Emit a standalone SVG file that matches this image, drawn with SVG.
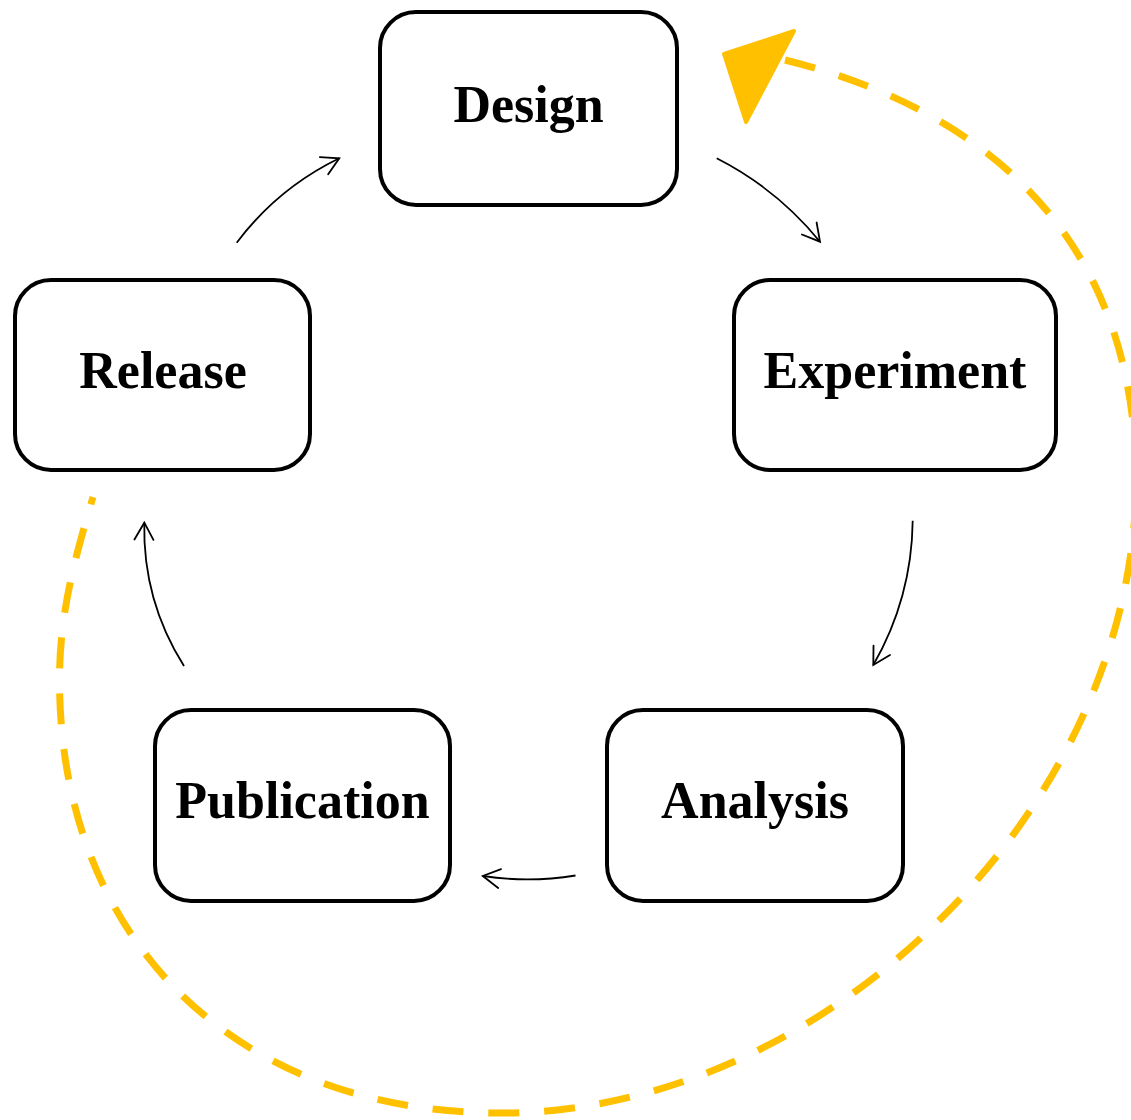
<svg xmlns="http://www.w3.org/2000/svg" width="1131" height="1120" viewBox="0 0 1131 1120">
  <style>
    .node rect { fill: #ffffff; stroke: #000000; stroke-width: 4; }
    .node text { font-family: "Liberation Serif", "Times New Roman", serif; font-weight: bold; font-size: 52px; fill: #000000; text-anchor: middle; }
    .conn { fill: none; stroke: #000000; stroke-width: 1.8; marker-end: url(#open); }
    .cycle { fill: none; stroke: #FFC000; stroke-width: 7; stroke-dasharray: 31 24.86; stroke-linecap: butt; }
    .cyclehead { fill: #FFC000; stroke: #FFC000; stroke-width: 4; stroke-linejoin: round; }
  </style>
  <defs>
    <marker id="open" markerUnits="userSpaceOnUse" viewBox="-20 -12 22 24" markerWidth="22" markerHeight="24" refX="0" refY="0" orient="auto" overflow="visible">
      <path d="M -17,-9.5 L 0,0 L -17,9.5" fill="none" stroke="#000000" stroke-width="1.8" stroke-linecap="round" stroke-linejoin="miter"/>
    </marker>
  </defs>
  <rect x="0" y="0" width="1131" height="1120" fill="#ffffff"/>

  <g id="connectors">
    <path class="cycle" d="M 785,60 C 993.5,111.6 1136,245 1136,480 C 1136,806 827.5,1113 500,1113 C 235.7,1113 59.5,939.8 59.5,680 C 59.5,610 76.2,554.6 93,497"/>
    <polygon class="cyclehead" points="724,54 794,31 746,122"/>
    <path class="conn" d="M 236.7,242.7 Q 278,188 339.3,158.3"/>
    <path class="conn" d="M 716.7,158.3 Q 777,189 820,241.7"/>
    <path class="conn" d="M 912.7,520.7 Q 911.8,597.9 873.3,665"/>
    <path class="conn" d="M 575.5,875.5 Q 529,883 482.8,876"/>
    <path class="conn" d="M 184,666 Q 142.6,600.4 144.3,522.7"/>
  </g>

  <g id="design" class="node">
    <rect x="380" y="12" width="297" height="193" rx="36" ry="36"/>
    <text x="528.5" y="122">Design</text>
  </g>
  <g id="experiment" class="node">
    <rect x="734" y="280" width="322" height="190" rx="36" ry="36"/>
    <text x="895" y="388">Experiment</text>
  </g>
  <g id="analysis" class="node">
    <rect x="607" y="710" width="296" height="191" rx="36" ry="36"/>
    <text x="755" y="818">Analysis</text>
  </g>
  <g id="publication" class="node">
    <rect x="155" y="710" width="295" height="191" rx="36" ry="36"/>
    <text x="302.5" y="818">Publication</text>
  </g>
  <g id="release" class="node">
    <rect x="15" y="280" width="295" height="190" rx="36" ry="36"/>
    <text x="163" y="388">Release</text>
  </g>
</svg>
